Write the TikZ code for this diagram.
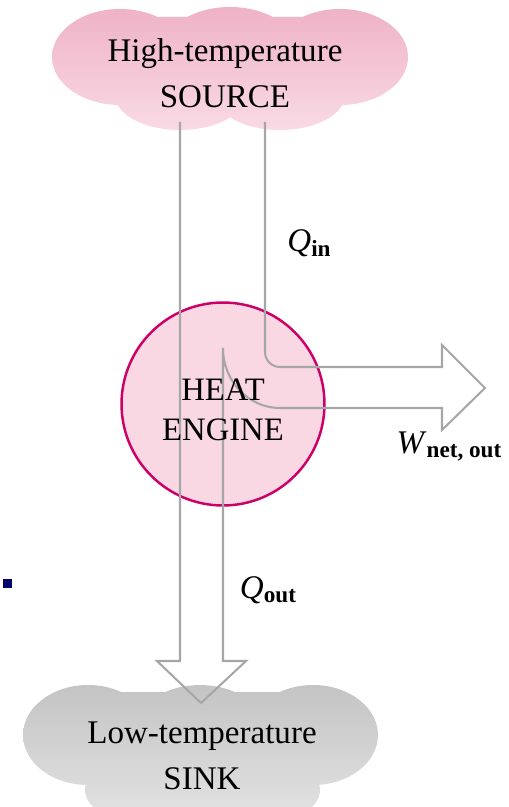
\documentclass[tikz,border=0pt]{standalone}
\usepackage{fontspec}
\setmainfont{Liberation Serif}

\definecolor{srctop}{HTML}{EFB2C7}
\definecolor{srcbot}{HTML}{F9DAE5}
\definecolor{sinktop}{HTML}{C4C4C4}
\definecolor{sinkbot}{HTML}{E4E4E4}
\definecolor{enginefill}{HTML}{F9D7E3}
\definecolor{enginerim}{HTML}{CC0066}
\definecolor{pipegray}{HTML}{A6A6A6}
\definecolor{bulletblue}{HTML}{000066}

\newcommand{\subidx}[1]{\raisebox{-2.5pt}{\fontsize{13.2}{14}\selectfont\bfseries #1}}

\begin{document}
\begin{tikzpicture}[x=0.02cm, y=0.02cm,
        pipe/.style={draw=pipegray, line width=1.15pt, line join=miter},
        label/.style={font=\fontsize{18.8}{26}\selectfont, align=center, inner sep=0pt},
        engine/.style={circle, draw=enginerim, fill=enginefill, line width=1.4pt,
            minimum size=4.06cm, inner sep=0pt}]
        \clip (0,0) rectangle (509,-807);

        % Горячий источник.
        \shade[top color=srctop, bottom color=srcbot]
            (120,-57) ellipse (68 and 48)
            (230,-55) ellipse (70 and 48)
            (340,-57) ellipse (68 and 48)
            (140,-17) rectangle (320,-110)
            (180,-95) ellipse (65 and 35)
            (280,-95) ellipse (65 and 35);

        % Холодный сток.
        \shade[top color=sinktop, bottom color=sinkbot]
            (88,-735) ellipse (65 and 50)
            (200,-735) ellipse (68 and 50)
            (313,-735) ellipse (65 and 50)
            (110,-692) rectangle (290,-820)
            (150,-790) ellipse (65 and 35)
            (255,-790) ellipse (65 and 35);

        % Тепловой двигатель.
        \node[engine] (engine) at (223,-404) {};

        % Потоки теплоты и работы.
        \draw[pipe] (180,-122) -- (180,-661) -- (157,-661) -- (201,-703)
            -- (246,-661) -- (223,-661) -- (223,-348)
            arc[start angle=180, end angle=270, x radius=57, y radius=60]
            -- (442,-408) -- (442,-430) -- (485,-388) -- (442,-345)
            -- (442,-367) -- (280,-367)
            arc[start angle=270, end angle=180, radius=15]
            -- (265,-122);

        % Маркер слева.
        \fill[bulletblue] (3,-579) rectangle (12,-588);

        % Подписи.
        \node[label] (source) at (225,-73) {High-temperature\\SOURCE};
        \node[label] (sink) at (202,-756) {Low-temperature\\SINK};
        \node[label, font=\fontsize{18.6}{22.7}\selectfont] (enginetext)
            at ([yshift=-3.5pt]engine.center) {HEAT\\ENGINE};
        \node[label, anchor=base] (qin) at (309,-252) {\textit{Q}\subidx{in}};
        \node[label, anchor=base] (qout) at (268,-598) {\textit{Q}\subidx{out}};
        \node[label, anchor=base] (wnet) at (449,-453) {\textit{W}\subidx{net, out}};
    \end{tikzpicture}
\end{document}
